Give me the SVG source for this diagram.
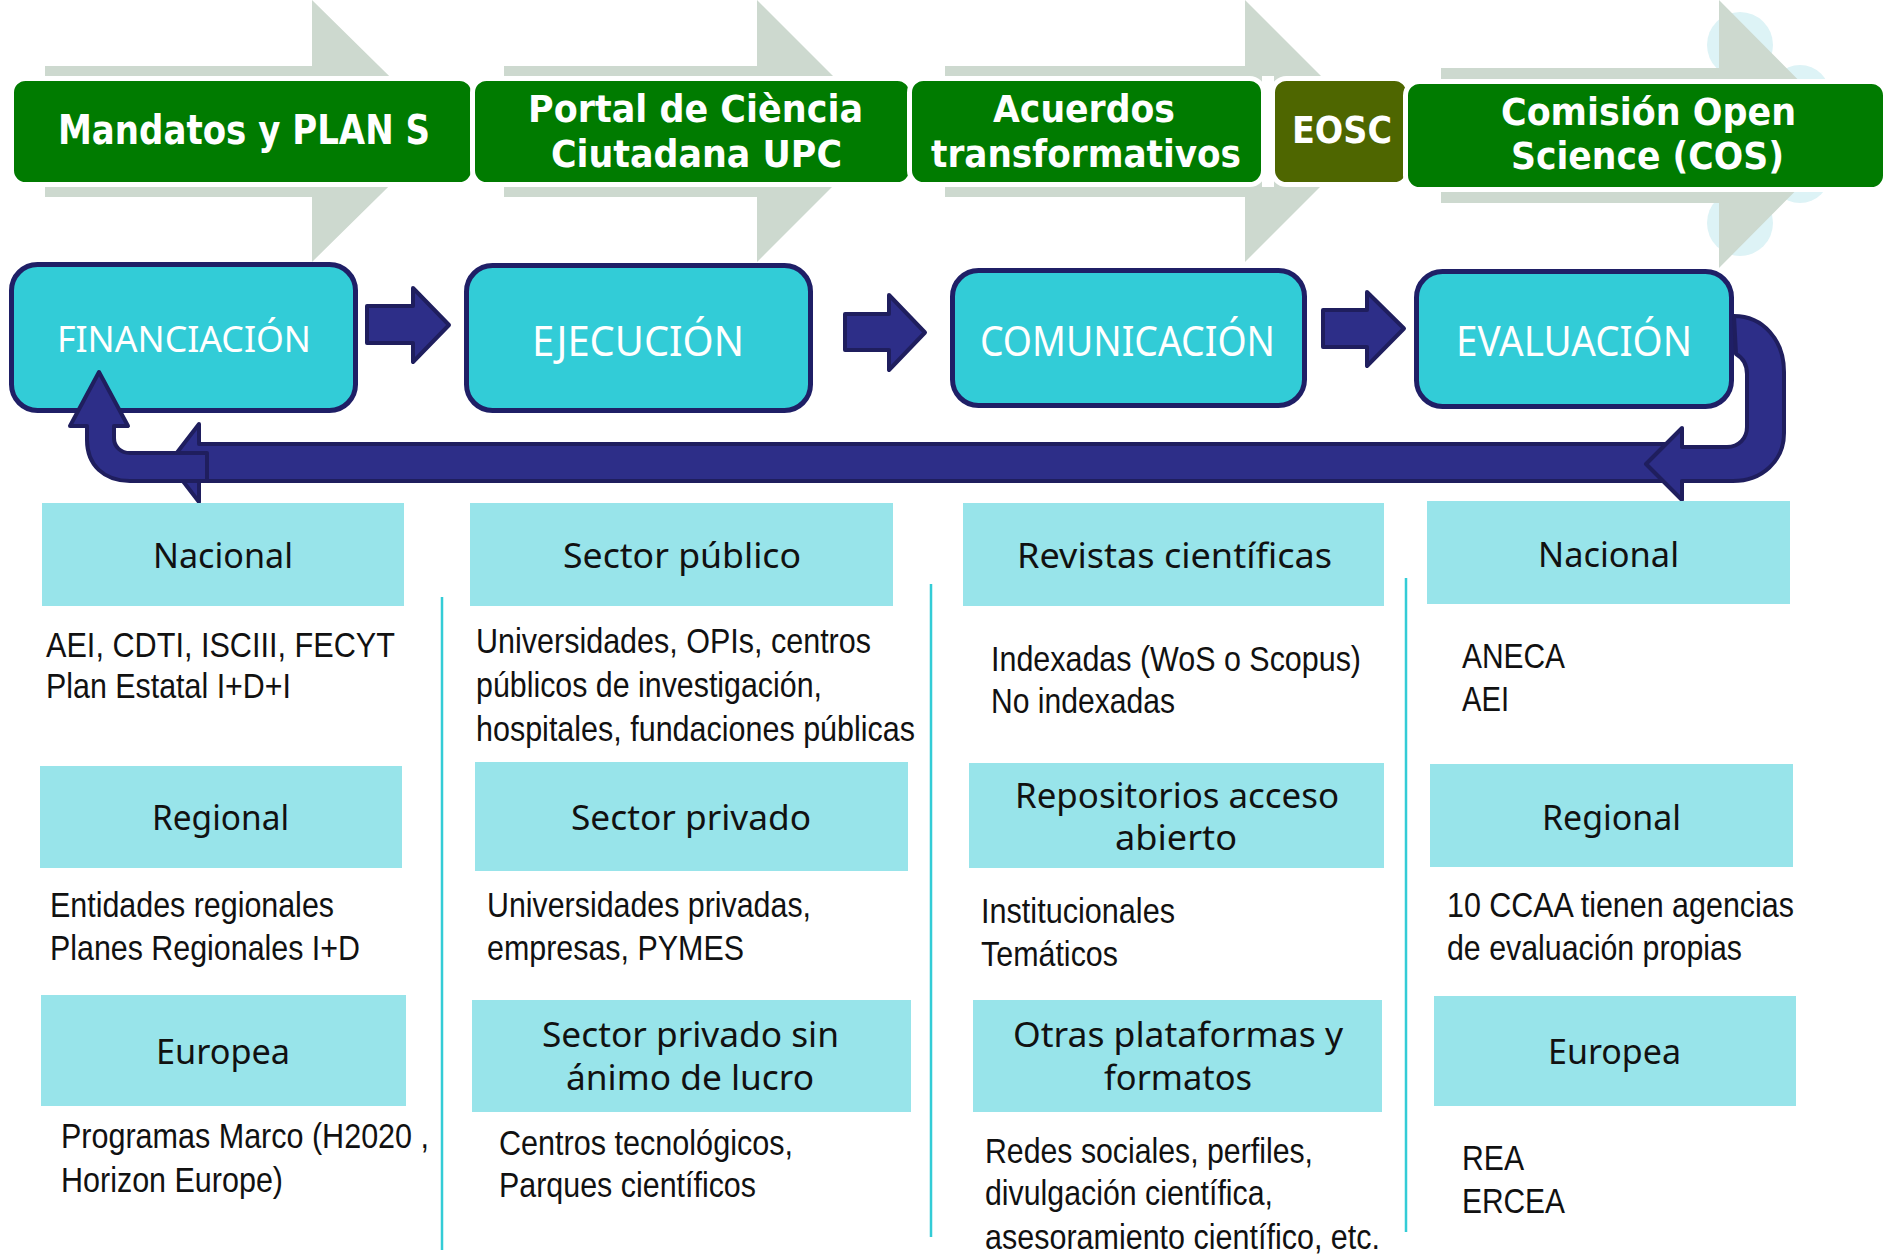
<svg xmlns="http://www.w3.org/2000/svg" width="1884" height="1260" viewBox="0 0 1884 1260">
<style>
.bg{fill:#ffffff}
.deco{fill:#DDF3F6}
.gray{fill:#CDD9CF}
.green{fill:#007B00;stroke:#ffffff;stroke-width:5}
.olive{fill:#4E6600;stroke:#ffffff;stroke-width:5}
.proc{fill:#32CCD7;stroke:#1F1F66;stroke-width:5}
.cat{fill:#98E4EA}
.nav{fill:#2D2E88;stroke:#1F1E5E;stroke-width:4;stroke-linejoin:round}
.sep{stroke:#33CCD6;stroke-width:2.5;fill:none}
.hd{font-family:"DejaVu Sans","Noto Sans",sans-serif;font-weight:bold;fill:#ffffff;text-anchor:middle}
.pt{font-family:"Noto Sans","DejaVu Sans",sans-serif;fill:#ffffff;text-anchor:middle}
.ct{font-family:"Noto Sans","DejaVu Sans",sans-serif;font-size:34px;fill:#111111;text-anchor:middle}
.bd{font-family:"Liberation Sans Narrow","Liberation Sans",Arial,sans-serif;font-size:35px;fill:#111111}
</style>
<rect class="bg" x="0" y="0" width="1884" height="1260"/>

<g id="decoration">
<circle class="deco" cx="1740" cy="45" r="33"/>
<circle class="deco" cx="1800" cy="95" r="30"/>
<circle class="deco" cx="1740" cy="223" r="33"/>
<circle class="deco" cx="1800" cy="173" r="30"/>
<polygon class="gray" points="45,66 312,66 312,0 445,131 312,262 312,197 45,197"/>
<polygon class="gray" points="504,66 757,66 757,0 888,131 757,262 757,197 504,197"/>
<polygon class="gray" points="945,66 1245,66 1245,0 1376,131 1245,262 1245,197 945,197"/>
<polygon class="gray" points="1441,68 1719,68 1719,0 1852,134 1719,268 1719,203 1441,203"/>
</g>

<g id="head-mandatos">
<rect class="green" x="11.5" y="78.5" width="462" height="106" rx="14"/>
<text class="hd" x="244" y="144" font-size="41" textLength="372" lengthAdjust="spacingAndGlyphs">Mandatos y PLAN S</text>
</g>
<g id="head-portal">
<rect class="green" x="472.5" y="78.5" width="439" height="106" rx="14"/>
<text class="hd" x="695.5" y="122" font-size="37" textLength="335" lengthAdjust="spacingAndGlyphs">Portal de Ciència</text>
<text class="hd" x="696.5" y="167" font-size="37" textLength="291" lengthAdjust="spacingAndGlyphs">Ciutadana UPC</text>
</g>
<g id="head-acuerdos">
<rect class="green" x="909.5" y="78.5" width="354" height="106" rx="14"/>
<text class="hd" x="1084" y="122" font-size="37" textLength="182" lengthAdjust="spacingAndGlyphs">Acuerdos</text>
<text class="hd" x="1086" y="167" font-size="37" textLength="310" lengthAdjust="spacingAndGlyphs">transformativos</text>
</g>
<g id="head-eosc">
<rect x="1262" y="76" width="12" height="111" fill="#ffffff"/>
<rect class="olive" x="1272.5" y="78.5" width="136" height="106" rx="14"/>
<text class="hd" x="1342" y="143" font-size="38" textLength="100" lengthAdjust="spacingAndGlyphs">EOSC</text>
</g>
<g id="head-cos">
<rect class="green" x="1405.5" y="81.5" width="480" height="108" rx="14"/>
<text class="hd" x="1648.5" y="125" font-size="37" textLength="295" lengthAdjust="spacingAndGlyphs">Comisión Open</text>
<text class="hd" x="1647.5" y="169" font-size="37" textLength="273" lengthAdjust="spacingAndGlyphs">Science (COS)</text>
</g>

<g id="financiacion">
<rect class="proc" x="11.5" y="264.5" width="344" height="146" rx="26"/>
<text class="pt" x="184" y="352" font-size="36" textLength="254" lengthAdjust="spacingAndGlyphs">FINANCIACIÓN</text>
</g>
<g id="ejecucion">
<rect class="proc" x="466.5" y="265.5" width="344" height="145" rx="26"/>
<text class="pt" x="638" y="356" font-size="41" textLength="212" lengthAdjust="spacingAndGlyphs">EJECUCIÓN</text>
</g>
<g id="comunicacion">
<rect class="proc" x="952.5" y="270.5" width="352" height="135" rx="26"/>
<text class="pt" x="1127.5" y="356" font-size="41" textLength="295" lengthAdjust="spacingAndGlyphs">COMUNICACIÓN</text>
</g>
<g id="evaluacion">
<rect class="proc" x="1416.5" y="271.5" width="315" height="135" rx="26"/>
<text class="pt" x="1574" y="356" font-size="41" textLength="236" lengthAdjust="spacingAndGlyphs">EVALUACIÓN</text>
</g>

<g id="connectors">
<polygon class="nav" points="367,306 413,306 413,288 449,325 413,362 413,343 367,343"/>
<polygon class="nav" points="845,314 889,314 889,295 925,332.5 889,370 889,350 845,350"/>
<polygon class="nav" points="1323,310 1367,310 1367,292 1404,328.5 1367,366 1367,347 1323,347"/>
<path class="nav" d="M1680,444 L199,444 L199,424 L169,463 L199,502 L199,481 L1680,481 Z"/>
<path class="nav" d="M1734,316 C1763,316 1784,340 1784,372 L1784,433 C1784,461 1762,481 1733,481 L1682,481 L1682,500 L1646,464 L1682,428 L1682,447 L1727,447 C1739,447 1747,438 1747,427 L1747,374 C1747,365 1743,358 1736,354 Z"/>
<path class="nav" d="M207,481 L130,481 C104,481 87,465 87,440 L87,426 L70,426 L99,372 L128,426 L114,426 L114,438 C114,447 121,453 130,453 L207,453 Z"/>
</g>

<g id="separators">
<line class="sep" x1="442" y1="597" x2="442" y2="1250"/>
<line class="sep" x1="931" y1="584" x2="931" y2="1237"/>
<line class="sep" x1="1406" y1="578" x2="1406" y2="1232"/>
</g>

<g id="fin-nacional">
<rect class="cat" x="42" y="503" width="362" height="103"/>
<text class="ct" x="223" y="568" textLength="140" lengthAdjust="spacingAndGlyphs">Nacional</text>
<text class="bd" x="46" y="657" textLength="349" lengthAdjust="spacingAndGlyphs">AEI, CDTI, ISCIII, FECYT</text>
<text class="bd" x="46" y="698" textLength="245" lengthAdjust="spacingAndGlyphs">Plan Estatal I+D+I</text>
</g>
<g id="fin-regional">
<rect class="cat" x="40" y="766" width="362" height="102"/>
<text class="ct" x="220.5" y="830" textLength="137" lengthAdjust="spacingAndGlyphs">Regional</text>
<text class="bd" x="50" y="917" textLength="284" lengthAdjust="spacingAndGlyphs">Entidades regionales</text>
<text class="bd" x="50" y="960" textLength="310" lengthAdjust="spacingAndGlyphs">Planes Regionales I+D</text>
</g>
<g id="fin-europea">
<rect class="cat" x="41" y="995" width="365" height="111"/>
<text class="ct" x="223" y="1064" textLength="134" lengthAdjust="spacingAndGlyphs">Europea</text>
<text class="bd" x="61" y="1148" textLength="368" lengthAdjust="spacingAndGlyphs">Programas Marco (H2020 ,</text>
<text class="bd" x="61" y="1192" textLength="222" lengthAdjust="spacingAndGlyphs">Horizon Europe)</text>
</g>

<g id="eje-publico">
<rect class="cat" x="470" y="503" width="423" height="103"/>
<text class="ct" x="682" y="568" textLength="238" lengthAdjust="spacingAndGlyphs">Sector público</text>
<text class="bd" x="476" y="653" textLength="395" lengthAdjust="spacingAndGlyphs">Universidades, OPIs, centros</text>
<text class="bd" x="476" y="697" textLength="346" lengthAdjust="spacingAndGlyphs">públicos de investigación,</text>
<text class="bd" x="476" y="741" textLength="439" lengthAdjust="spacingAndGlyphs">hospitales, fundaciones públicas</text>
</g>
<g id="eje-privado">
<rect class="cat" x="475" y="762" width="433" height="109"/>
<text class="ct" x="691" y="830" textLength="240" lengthAdjust="spacingAndGlyphs">Sector privado</text>
<text class="bd" x="487" y="917" textLength="324" lengthAdjust="spacingAndGlyphs">Universidades privadas,</text>
<text class="bd" x="487" y="960" textLength="257" lengthAdjust="spacingAndGlyphs">empresas, PYMES</text>
</g>
<g id="eje-sinlucro">
<rect class="cat" x="472" y="1000" width="439" height="112"/>
<text class="ct" x="690.5" y="1047" textLength="297" lengthAdjust="spacingAndGlyphs">Sector privado sin</text>
<text class="ct" x="690" y="1090" textLength="248" lengthAdjust="spacingAndGlyphs">ánimo de lucro</text>
<text class="bd" x="499" y="1155" textLength="294" lengthAdjust="spacingAndGlyphs">Centros tecnológicos,</text>
<text class="bd" x="499" y="1197" textLength="257" lengthAdjust="spacingAndGlyphs">Parques científicos</text>
</g>

<g id="com-revistas">
<rect class="cat" x="963" y="503" width="421" height="103"/>
<text class="ct" x="1174.5" y="568" textLength="315" lengthAdjust="spacingAndGlyphs">Revistas científicas</text>
<text class="bd" x="991" y="671" textLength="370" lengthAdjust="spacingAndGlyphs">Indexadas (WoS o Scopus)</text>
<text class="bd" x="991" y="713" textLength="184" lengthAdjust="spacingAndGlyphs">No indexadas</text>
</g>
<g id="com-repositorios">
<rect class="cat" x="969" y="763" width="415" height="105"/>
<text class="ct" x="1177" y="808" textLength="324" lengthAdjust="spacingAndGlyphs">Repositorios acceso</text>
<text class="ct" x="1176" y="850" textLength="122" lengthAdjust="spacingAndGlyphs">abierto</text>
<text class="bd" x="981" y="923" textLength="194" lengthAdjust="spacingAndGlyphs">Institucionales</text>
<text class="bd" x="981" y="966" textLength="137" lengthAdjust="spacingAndGlyphs">Temáticos</text>
</g>
<g id="com-otras">
<rect class="cat" x="973" y="1000" width="409" height="112"/>
<text class="ct" x="1178" y="1047" textLength="330" lengthAdjust="spacingAndGlyphs">Otras plataformas y</text>
<text class="ct" x="1178" y="1090" textLength="148" lengthAdjust="spacingAndGlyphs">formatos</text>
<text class="bd" x="985" y="1163" textLength="328" lengthAdjust="spacingAndGlyphs">Redes sociales, perfiles,</text>
<text class="bd" x="985" y="1205" textLength="288" lengthAdjust="spacingAndGlyphs">divulgación científica,</text>
<text class="bd" x="985" y="1249" textLength="395" lengthAdjust="spacingAndGlyphs">asesoramiento científico, etc.</text>
</g>

<g id="eva-nacional">
<rect class="cat" x="1427" y="501" width="363" height="103"/>
<text class="ct" x="1608.5" y="567" textLength="141" lengthAdjust="spacingAndGlyphs">Nacional</text>
<text class="bd" x="1462" y="668" textLength="103" lengthAdjust="spacingAndGlyphs">ANECA</text>
<text class="bd" x="1462" y="711" textLength="47" lengthAdjust="spacingAndGlyphs">AEI</text>
</g>
<g id="eva-regional">
<rect class="cat" x="1430" y="764" width="363" height="103"/>
<text class="ct" x="1611.5" y="830" textLength="139" lengthAdjust="spacingAndGlyphs">Regional</text>
<text class="bd" x="1447" y="917" textLength="347" lengthAdjust="spacingAndGlyphs">10 CCAA tienen agencias</text>
<text class="bd" x="1447" y="960" textLength="295" lengthAdjust="spacingAndGlyphs">de evaluación propias</text>
</g>
<g id="eva-europea">
<rect class="cat" x="1434" y="996" width="362" height="110"/>
<text class="ct" x="1614.5" y="1064" textLength="133" lengthAdjust="spacingAndGlyphs">Europea</text>
<text class="bd" x="1462" y="1170" textLength="62" lengthAdjust="spacingAndGlyphs">REA</text>
<text class="bd" x="1462" y="1213" textLength="103" lengthAdjust="spacingAndGlyphs">ERCEA</text>
</g>
</svg>
